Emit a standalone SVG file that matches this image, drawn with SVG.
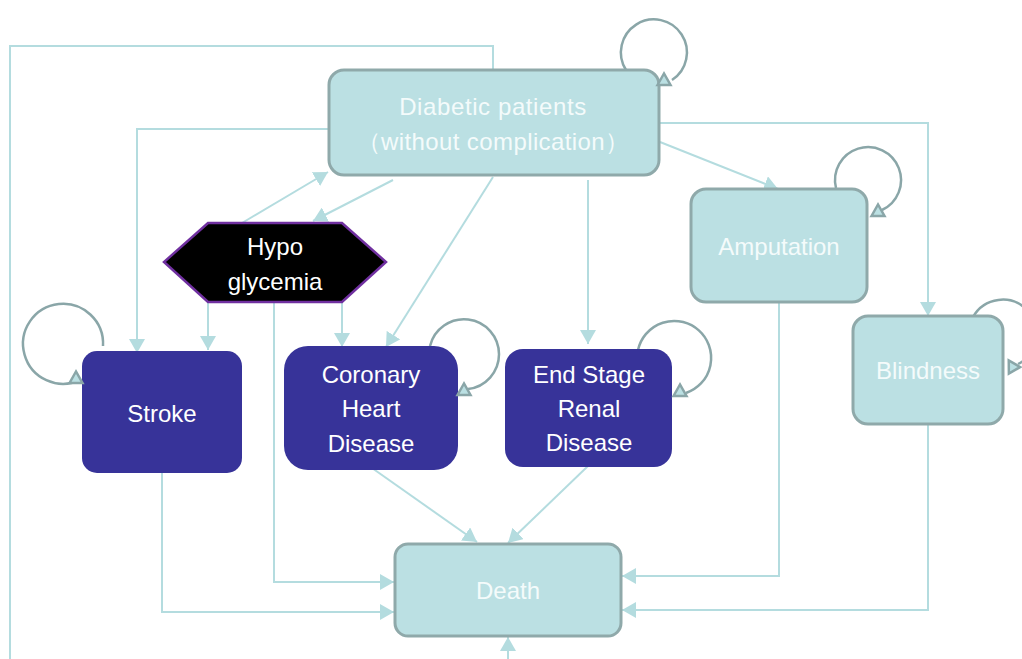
<svg xmlns="http://www.w3.org/2000/svg" width="1022" height="659" viewBox="0 0 1022 659">
<style>
.light{fill:#BBE0E3;stroke:#8FA9AA;stroke-width:3}
.dark{fill:#373399;stroke:none}
.t{font-family:"Liberation Sans",Arial,sans-serif;font-size:24px;fill:#FFFFFF;text-anchor:middle}
.lt{fill:#F4FBFB}
.c{fill:none;stroke:#B4DCDF;stroke-width:2}
.loop{fill:none;stroke:#8AA6A8;stroke-width:2.5}
.lh{fill:#BBE0E3;stroke:#8AA6A8;stroke-width:2.5;stroke-linejoin:miter}
</style>
<defs>
<marker id="ah" markerUnits="userSpaceOnUse" markerWidth="16" markerHeight="16" refX="14" refY="8" orient="auto">
<path d="M0,0 L14,8 L0,16 z" fill="#B4DCDF"/>
</marker>
<path id="tri" d="M-6.5,5 L0,-6.5 L6.5,5 z"/>
</defs>
<rect width="1022" height="659" fill="#FFFFFF"/>
<g id="connectors">
<path class="c" d="M493 70 V46 H10 V659"/>
<path class="c" d="M508 659 V637" marker-end="url(#ah)"/>
<path class="c" d="M329 129 H137 V353" marker-end="url(#ah)"/>
<path class="c" d="M242 223 L328 172" marker-end="url(#ah)"/>
<path class="c" d="M393 180 L313 221" marker-end="url(#ah)"/>
<path class="c" d="M493 177 L386 347" marker-end="url(#ah)"/>
<path class="c" d="M208 302 V350" marker-end="url(#ah)"/>
<path class="c" d="M342 302 V347" marker-end="url(#ah)"/>
<path class="c" d="M274 302 V582 H394" marker-end="url(#ah)"/>
<path class="c" d="M588 180 V344" marker-end="url(#ah)"/>
<path class="c" d="M660 142 L778 189" marker-end="url(#ah)"/>
<path class="c" d="M659 123 H928 V316" marker-end="url(#ah)"/>
<path class="c" d="M162 473 V612 H394" marker-end="url(#ah)"/>
<path class="c" d="M372 468 L477 542" marker-end="url(#ah)"/>
<path class="c" d="M588 466 L508 543" marker-end="url(#ah)"/>
<path class="c" d="M779 302 V576 H622" marker-end="url(#ah)"/>
<path class="c" d="M928 424 V610 H622" marker-end="url(#ah)"/>
<path class="loop" d="M626 70 A33 33 0 1 1 672 80"/>
<path class="loop" d="M103 346 A40 40 0 1 0 80 380"/>
<path class="loop" d="M430 346 A35 35 0 1 1 468 389"/>
<path class="loop" d="M638 350 A37 37 0 1 1 686 393"/>
<path class="loop" d="M836 188 A33 33 0 1 1 882 210"/>
<path class="loop" d="M973 317 A34 34 0 1 1 1018 364"/>
</g>
<g id="diabetic">
<rect class="light" x="329" y="70" width="330" height="105" rx="15"/>
<text class="t lt" x="493" y="115" letter-spacing="0.6">Diabetic patients</text>
<text class="t lt" x="493" y="150" letter-spacing="0.4">（without complication）</text>
</g>
<g id="hypoglycemia">
<polygon points="208,223 342,223 386,262 342,302 208,302 164,262" fill="#000000" stroke="#7030A0" stroke-width="2.5"/>
<text class="t" x="275" y="255">Hypo</text>
<text class="t" x="275" y="290">glycemia</text>
</g>
<g id="stroke">
<rect class="dark" x="82" y="351" width="160" height="122" rx="15"/>
<text class="t" x="162" y="422">Stroke</text>
</g>
<g id="chd">
<rect class="dark" x="284" y="346" width="174" height="124" rx="24"/>
<text class="t" x="371" y="383">Coronary</text>
<text class="t" x="371" y="417">Heart</text>
<text class="t" x="371" y="452">Disease</text>
</g>
<g id="esrd">
<rect class="dark" x="505" y="349" width="167" height="118" rx="18"/>
<text class="t" x="589" y="383">End Stage</text>
<text class="t" x="589" y="417">Renal</text>
<text class="t" x="589" y="451">Disease</text>
</g>
<g id="amputation">
<rect class="light" x="691" y="189" width="176" height="113" rx="15"/>
<text class="t lt" x="779" y="255">Amputation</text>
</g>
<g id="blindness">
<rect class="light" x="853" y="316" width="150" height="108" rx="15"/>
<text class="t lt" x="928" y="379">Blindness</text>
</g>
<g id="death">
<rect class="light" x="395" y="544" width="226" height="92" rx="13"/>
<text class="t lt" x="508" y="599">Death</text>
</g>
<g id="loop-heads">
<use href="#tri" class="lh" x="664" y="80"/>
<use href="#tri" class="lh" x="76" y="378"/>
<use href="#tri" class="lh" x="464" y="390"/>
<use href="#tri" class="lh" x="680" y="391"/>
<use href="#tri" class="lh" x="878" y="211"/>
<use href="#tri" class="lh" transform="translate(1012 366) rotate(-30)"/>
</g>
</svg>
